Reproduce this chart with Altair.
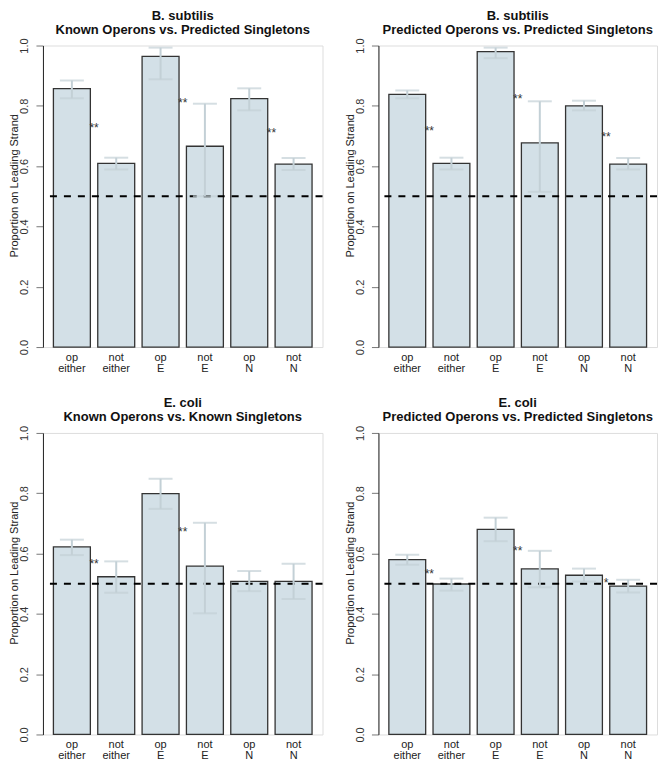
import altair as alt
import pandas as pd

FONT = "Liberation Sans"
BAR_FILL = "#d3e0e7"
ERR_COL = "#c3d0d6"

categories = ["op either", "not either", "op E", "not E", "op N", "not N"]

titles = [
    ["B. subtilis", "Known Operons vs. Predicted Singletons"],
    ["B. subtilis", "Predicted Operons vs. Predicted Singletons"],
    ["E. coli", "Known Operons vs. Known Singletons"],
    ["E. coli", "Predicted Operons vs. Predicted Singletons"],
]

p1_values = [0.857, 0.609, 0.964, 0.666, 0.824, 0.607]
p1_lo = [0.825, 0.589, 0.888, 0.500, 0.785, 0.587]
p1_hi = [0.884, 0.628, 0.993, 0.807, 0.858, 0.627]
p1_stars = ["**", "**", "**"]

p2_values = [0.838, 0.609, 0.980, 0.677, 0.800, 0.607]
p2_lo = [0.825, 0.589, 0.958, 0.515, 0.785, 0.589]
p2_hi = [0.851, 0.628, 0.993, 0.815, 0.817, 0.627]
p2_stars = ["**", "**", "**"]

p3_values = [0.622, 0.523, 0.799, 0.558, 0.508, 0.508]
p3_lo = [0.595, 0.470, 0.748, 0.402, 0.475, 0.449]
p3_hi = [0.646, 0.574, 0.848, 0.702, 0.542, 0.566]
p3_stars = ["**", "**", ""]

p4_values = [0.580, 0.499, 0.680, 0.549, 0.528, 0.492]
p4_lo = [0.563, 0.477, 0.641, 0.488, 0.507, 0.471]
p4_hi = [0.596, 0.517, 0.719, 0.609, 0.550, 0.513]
p4_stars = ["**", "**", "*"]

y_ticks = [0.0, 0.2, 0.4, 0.6, 0.8, 1.0]
ref_level = [0.5]


def make_panel(title, vals, lo, hi, stars, width, height=302):
    df = pd.DataFrame({"cat": categories, "value": vals, "lo": lo, "hi": hi})
    sdf = pd.DataFrame({
        "cat": categories[0::2],
        "star": stars,
        "y": [(vals[2 * k] + vals[2 * k + 1]) / 2 for k in range(3)],
    })
    xscale = alt.Scale(paddingInner=1 / 6, paddingOuter=0.236)
    xaxis = alt.Axis(
        title=None, labelAngle=0, domain=False, ticks=False,
        labelExpr="split(datum.value, ' ')", labelFont=FONT, labelFontSize=11,
        labelLineHeight=11.5, labelPadding=4, labelColor="#222",
    )
    yscale = alt.Scale(domain=[0, 1], nice=False, zero=True)
    yaxis = alt.Axis(
        title="Proportion on Leading Strand", values=y_ticks, format=".1f",
        grid=False, labelAngle=270, labelAlign="center", labelBaseline="bottom",
        labelFont=FONT, labelFontSize=11, labelColor="#333", labelPadding=6,
        tickSize=7, tickColor="#777", domainColor="#222",
        titleFont=FONT, titleFontSize=11, titleFontWeight="normal",
        titleColor="#222", titleAngle=270, titleAlign="center",
        titleBaseline="bottom", titleX=-23, titleY=140,
    )
    xs = alt.X("cat:N", sort=categories, scale=xscale, axis=xaxis)
    base = alt.Chart(df)
    bars = base.mark_bar(fill=BAR_FILL, stroke="#333", strokeWidth=1.3).encode(
        x=xs, y=alt.Y("value:Q", scale=yscale, axis=yaxis)
    )
    ref = alt.Chart(pd.DataFrame({"y": ref_level})).mark_rule(
        color="black", strokeWidth=2, strokeDash=[7, 7]
    ).encode(y="y:Q")
    err = base.mark_rule(color=ERR_COL, strokeWidth=2).encode(
        x=xs, y="lo:Q", y2="hi:Q"
    )
    cap_lo = base.mark_tick(color=ERR_COL, thickness=2, size=24, orient="horizontal").encode(
        x=xs, y="lo:Q"
    )
    cap_hi = base.mark_tick(color=ERR_COL, thickness=2, size=24, orient="horizontal").encode(
        x=xs, y="hi:Q"
    )
    star = alt.Chart(sdf).mark_text(
        font=FONT, fontSize=12, color="#333", baseline="middle", align="center", dy=2, dx=3.7
    ).encode(
        x=alt.X("cat:N", sort=categories, bandPosition=1),
        y="y:Q", text="star:N",
    )
    return alt.layer(bars, ref, err, cap_lo, cap_hi, star).properties(
        width=width, height=height,
        title=alt.TitleParams(
            text=title, fontSize=13, font=FONT, fontWeight="bold", anchor="middle",
            frame="group", offset=1, lineHeight=14, color="#111",
        ),
    )


p1 = make_panel(titles[0], p1_values, p1_lo, p1_hi, p1_stars, 280)
p2 = make_panel(titles[1], p2_values, p2_lo, p2_hi, p2_stars, 279)
p3 = make_panel(titles[2], p3_values, p3_lo, p3_hi, p3_stars, 280)
p4 = make_panel(titles[3], p4_values, p4_lo, p4_hi, p4_stars, 279)

chart = alt.concat(
    p1, p2, p3, p4, columns=2, spacing={"row": 86, "column": 56}, bounds="flush"
).properties(
    padding={"left": 0, "top": 0, "right": 0, "bottom": 0}
).configure_view(stroke=None).configure(background="white")

chart.save("out.html", embed_options={"renderer": "svg", "actions": False})
